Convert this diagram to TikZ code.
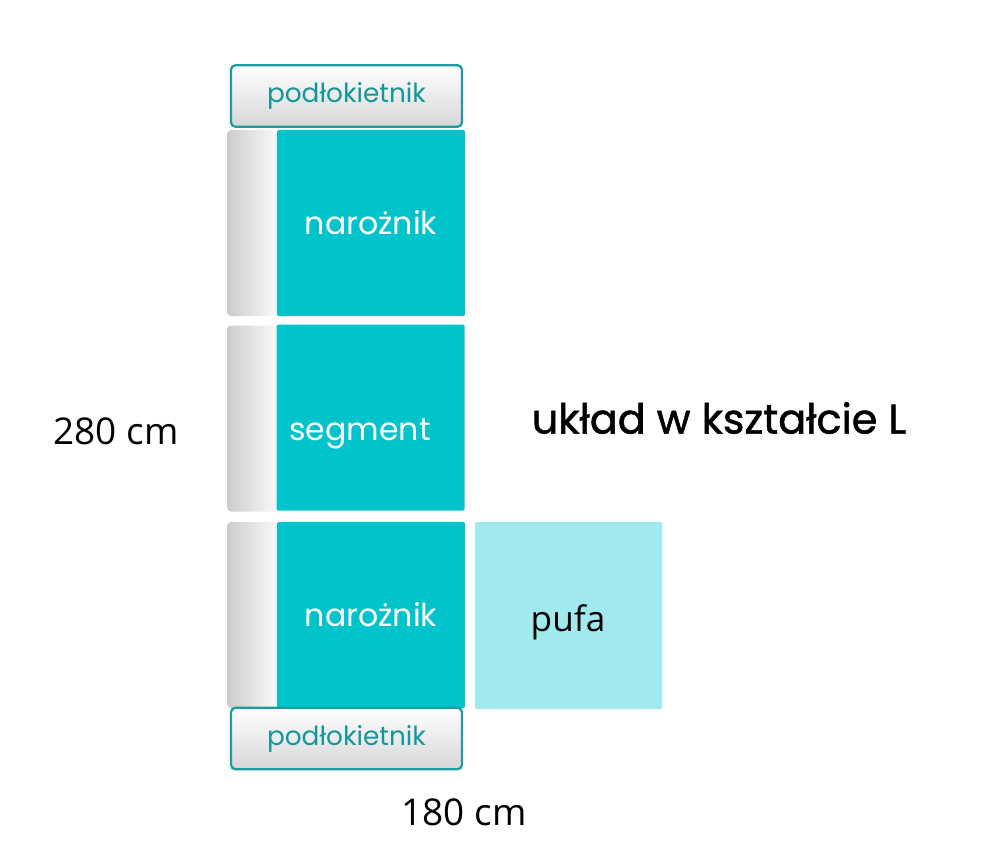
\documentclass[tikz,border=0pt]{standalone}
\usepackage{fontspec}
\setmainfont{Open Sans}
\newfontfamily\geofont{Poppins}
\newfontfamily\titlefont[FakeBold=1.3]{Poppins}
\definecolor{seatcol}{HTML}{00C3CB}
\definecolor{pufacol}{HTML}{A0EAED}
\definecolor{armline}{HTML}{1A9CA0}
\definecolor{armtext}{HTML}{13979A}
\begin{document}
\begin{tikzpicture}[x=0.2mm,y=-0.2mm,
    armrest/.style={draw=armline,line width=0.45mm,rounded corners=0.9mm,
      top color=white,bottom color=black!16,minimum width=46.2mm,
      minimum height=12.3mm,inner sep=0pt,text=armtext,
      font=\geofont\fontsize{15}{18}\selectfont},
    backrest/.style={rounded corners=0.8mm,left color=black!20,right color=black!2,
      minimum width=10mm,minimum height=37.2mm,inner sep=0pt},
    seat/.style={fill=seatcol,rounded corners=0.3mm,minimum width=37.6mm,
      minimum height=37.2mm,inner sep=0pt,text=white,
      font=\geofont\fontsize{18}{21}\selectfont},
    pouf/.style={fill=pufacol,rounded corners=0.3mm,minimum width=37.4mm,
      minimum height=37.4mm,inner sep=0pt},
    dimtext/.style={font=\fontsize{21}{25}\selectfont}]
  \useasboundingbox (0,0) rectangle (1000,857);
  % sofa pieces
  \node[armrest] (armtop) at (346.5,96) {podłokietnik};
  \node[backrest] (back1) at (252,223) {};
  \node[seat] (corner1) at (371,223) {narożnik};
  \node[backrest] (back2) at (252,418.5) {};
  \node[seat] (segment) at (370.5,417.5) {};
  \node[seat] (segtext) at (360,434) [fill=none,minimum size=0pt] {segment};
  \node[backrest] (back3) at (252,615) {};
  \node[seat] (corner2) at (371,615) {narożnik};
  \node[pouf] (pufa) at (568.5,615.5) {};
  \node[font=\fontsize{20}{24}\selectfont] (pufatext) at (568,622) {pufa};
  \node[armrest] (armbot) at (346.5,738.5) {podłokietnik};
  % dimensions and title
  \node[dimtext] (height) at (116,431) {280 cm};
  \node[dimtext] (width) at (464,812) {180 cm};
  \node[font=\titlefont\fontsize{23.5}{28}\selectfont] (title) at (719,418)
    {układ w kształcie L};
\end{tikzpicture}
\end{document}
